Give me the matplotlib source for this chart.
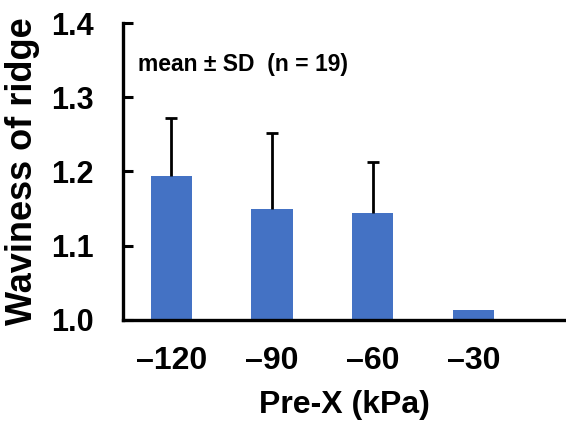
import matplotlib
matplotlib.use("Agg")
import matplotlib.pyplot as plt
import numpy as np

categories = ["\u2013120", "\u201390", "\u201360", "\u201330"]
means = [1.194, 1.149, 1.144, 1.013]
sds = [0.078, 0.103, 0.069, 0.0]

plt.rcParams['font.family'] = ['Liberation Sans', 'DejaVu Sans']
plt.rcParams['font.weight'] = 'bold'

fig = plt.figure(figsize=(5.66, 4.30), dpi=100)
ax = fig.add_axes([0.217, 0.256, 0.783, 0.6905])

x = np.arange(len(categories))
ax.bar(x, [m - 1.0 for m in means], bottom=1.0, width=0.41, color='#4472C4', zorder=2)
mask = [s > 0 for s in sds]
xe = x[mask]
ye = [m for m, k in zip(means, mask) if k]
se = [s for s, k in zip(sds, mask) if k]
_, caps, _ = ax.errorbar(xe, ye, yerr=[np.zeros(len(se)), se], fmt='none', ecolor='black',
                         elinewidth=2, capsize=4, capthick=2, zorder=3)
if len(caps) == 2:
    caps[0].remove()

ax.set_xlim(-0.48, 3.92)
ax.set_ylim(1.0, 1.4)
ax.set_yticks([1.0, 1.1, 1.2, 1.3, 1.4])
ax.set_yticklabels(["1.0", "1.1", "1.2", "1.3", "1.4"], fontsize=22, fontweight='bold')
ax.set_xticks(x)
ax.set_xticklabels(categories, fontsize=23, fontweight='bold')
ax.tick_params(axis='y', direction='in', length=7, width=2.2, pad=21)
ax.tick_params(axis='x', length=0, pad=19)

for s in ['top', 'right']:
    ax.spines[s].set_visible(False)
for s in ['left', 'bottom']:
    ax.spines[s].set_linewidth(2.4)

ax.set_ylabel("Waviness of ridge", fontsize=26, fontweight='bold', labelpad=8)
ax.set_xlabel("Pre-X (kPa)", fontsize=23, fontweight='bold', labelpad=10)

ax.text(0.035, 0.86, "mean \u00b1 SD  (n = 19)", transform=ax.transAxes,
        fontsize=16.5, fontweight='bold', va='center', ha='left')

fig.savefig("out.png", dpi=100)
